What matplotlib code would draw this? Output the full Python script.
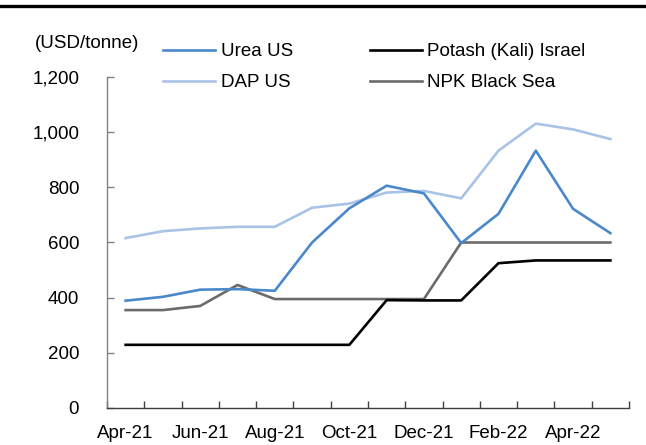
#!/usr/bin/env python3
"""Fertilizer prices chart (USD/tonne)."""
import matplotlib
matplotlib.use("Agg")
import matplotlib.pyplot as plt
import numpy as np
from matplotlib.lines import Line2D
from matplotlib.ticker import FuncFormatter

plt.rcParams["font.family"] = ["Liberation Sans", "DejaVu Sans"]

# Data (monthly, Apr-21 .. May-22)
months = ["Apr-21", "May-21", "Jun-21", "Jul-21", "Aug-21", "Sep-21", "Oct-21",
          "Nov-21", "Dec-21", "Jan-22", "Feb-22", "Mar-22", "Apr-22", "May-22"]
urea_us = [389, 403, 429, 431, 425, 600, 724, 806, 778, 598, 704, 933, 722, 634]
dap_us = [616, 641, 651, 657, 657, 726, 741, 781, 787, 760, 933, 1031, 1010, 975]
potash_israel = [229, 229, 229, 229, 229, 229, 229, 391, 390, 390, 525, 535, 535, 535]
npk_black_sea = [355, 355, 370, 446, 395, 395, 395, 395, 395, 600, 600, 600, 600, 600]

# Colors
UREA_BLUE = "#4A88CA"
DAP_BLUE = "#A9C3E6"
BLACK = "#000000"
GREY = "#6B6B6B"

FS = 13.5

fig = plt.figure(figsize=(6.46, 4.45), dpi=100)
fig.patch.set_facecolor("white")
ax = fig.add_axes([107 / 646, 1 - 408 / 445, (629 - 107) / 646, (408 - 77) / 445])

x = np.arange(len(months))
ax.plot(x, urea_us, color=UREA_BLUE, lw=1.9, label="Urea US", zorder=3)
ax.plot(x, dap_us, color=DAP_BLUE, lw=1.9, label="DAP US", zorder=2)
ax.plot(x, potash_israel, color=BLACK, lw=1.9, label="Potash (Kali) Israel", zorder=3)
ax.plot(x, npk_black_sea, color=GREY, lw=1.9, label="NPK Black Sea", zorder=2)

ax.set_xlim(-0.5, len(months) - 0.5)
ax.set_ylim(0, 1200)

# y axis
ax.set_yticks(np.arange(0, 1201, 200))
ax.yaxis.set_major_formatter(FuncFormatter(lambda v, p: f"{int(v):,}"))
ax.tick_params(axis="y", direction="in", length=5, width=1, color="#808080",
               labelsize=FS, pad=20)

# x axis: ticks between categories, labels every other month
ax.set_xticks(np.arange(-0.5, len(months), 1.0))
ax.set_xticklabels([])
ax.set_xticks(x[::2], minor=True)
ax.set_xticklabels(months[::2], minor=True)
ax.tick_params(axis="x", which="major", direction="in", length=5, width=1, color="#404040")
ax.tick_params(axis="x", which="minor", length=0, labelsize=FS, pad=12)

for s in ["top", "right"]:
    ax.spines[s].set_visible(False)
ax.spines["left"].set_color("#808080")
ax.spines["bottom"].set_color("#404040")
ax.spines["left"].set_linewidth(1)
ax.spines["bottom"].set_linewidth(1)

# unit label
fig.text(35 / 646, 1 - 44 / 445, "(USD/tonne)", fontsize=FS, ha="left", va="center")

# legend
handles, labels = ax.get_legend_handles_labels()
fig.legend(handles, labels,
           loc="upper left", bbox_to_anchor=(163 / 646, 1 - 43 / 445),
           ncol=2, frameon=False, fontsize=FS, handlelength=2.77,
           handletextpad=0.3, columnspacing=4.1, labelspacing=0.75,
           borderpad=0, borderaxespad=0)

# top rule
fig.add_artist(Line2D([0, 1], [1 - 6 / 445, 1 - 6 / 445], color="black", lw=2.4,
                      transform=fig.transFigure))

fig.savefig("out.png", dpi=100, facecolor="white")
